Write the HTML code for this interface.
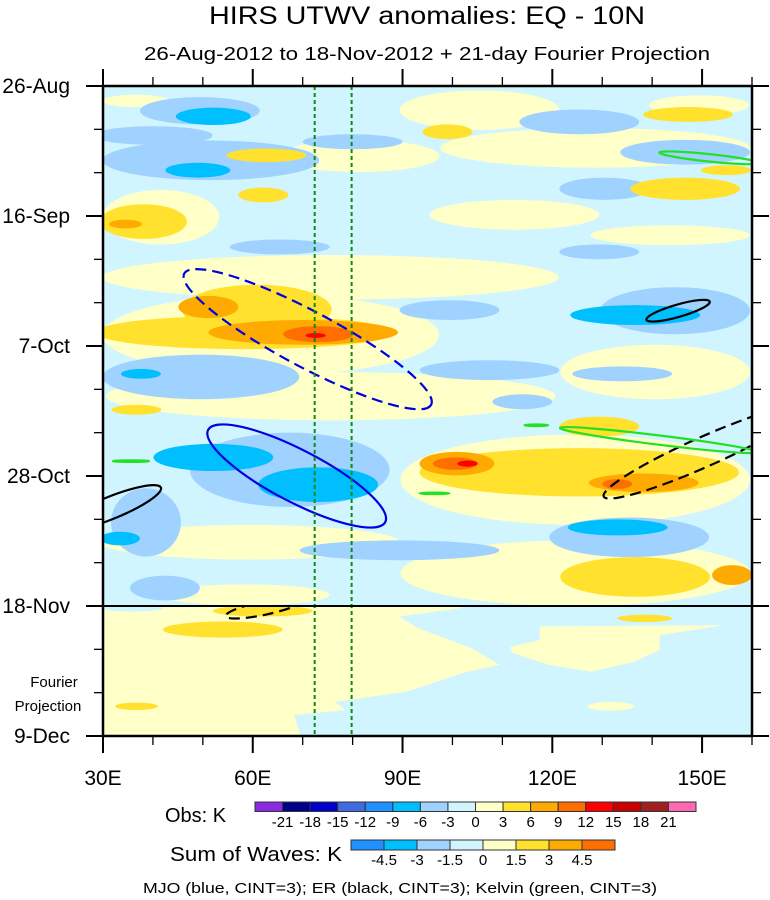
<!DOCTYPE html>
<html><head><meta charset="utf-8"><style>
html,body{margin:0;padding:0;background:#fff;}
svg{display:block;font-family:"Liberation Sans",Arial,sans-serif;}
</style></head><body>
<svg id="chart" width="770" height="900" viewBox="0 0 770 900" xmlns="http://www.w3.org/2000/svg">
<defs>
<clipPath id="clipMain"><rect x="103" y="86" width="649" height="520"/></clipPath>
<clipPath id="clipProj"><rect x="103" y="606" width="649" height="131"/></clipPath>
<clipPath id="clipAll"><rect x="103" y="86" width="649" height="651"/></clipPath>
</defs>
<text x="427" y="24" font-size="25" text-anchor="middle" textLength="436" lengthAdjust="spacingAndGlyphs">HIRS UTWV anomalies: EQ - 10N</text>
<text x="427" y="60" font-size="18" text-anchor="middle" textLength="566" lengthAdjust="spacingAndGlyphs">26-Aug-2012 to 18-Nov-2012 + 21-day Fourier Projection</text>
<g id="field"></g>
<g id="contours"></g>
<g id="axes"></g>
<g id="legend"></g>
</svg>
<script>
// ---- data (lon in degrees E, day = days since 26-Aug-2012, value in K) ----
const lonTicks = [30, 60, 90, 120, 150];
const lonTickLabels = ["30E", "60E", "90E", "120E", "150E"];
const dayTicks = [0, 21, 42, 63, 84, 105];
const dayTickLabels = ["26-Aug", "16-Sep", "7-Oct", "28-Oct", "18-Nov", "9-Dec"];

// observed anomaly blobs
const blobLon = [105.4,149.4,36.6,81.4,128.6,41.6,75.6,63.6,75.6,140.6,124.6,59.4,124.6,112.4,143.6,58.4,
  49.4,51.6,125.4,146.6,130.4,129.4,144.6,65.4,49.6,67.4,38.6,135.4,89.4,107.4,42.4,99.4,114,134,
  52.1,49,136.6,52.1,73.1,133.1,33.4,37.6,
  58.4,60.8,38.1,62.7,62.1,147.2,154.8,146.6,125.4,136.6,99,36.7,129.4,
  51.1,70.1,100.9,138.3,156,34.5,
  73.1,100.6,133,
  72.6,103,
  40,80];
const blobDay = [3.9,3.1,2.4,11.3,10.0,21.2,30.9,40.2,50.1,46.2,63.6,73.7,78.7,20.8,24.1,82.2,
  4.0,12.0,5.8,10.7,16.6,26.8,36.3,26,47,62,70.5,72.9,75,45.9,81.1,36.2,51,46.5,
  4.9,13.6,37,60,64.4,71.3,73.1,46.5,
  39.8,36.1,21.9,11.2,17.6,4.6,13.6,16.6,62.4,79.3,7.4,52.3,55,
  35.7,39.8,61,64.1,79,22.3,
  40.1,61,64.3,
  40.3,61,
  8,9];
const blobRLon = [16,10,6.7,16,31,11.7,45.7,33.7,45,19,35,30,35,17,16,17,
  12,21.7,12,13,9,8,15,10,19.7,20,7,16,20,14,7,10,6,10,
  7.5,6.5,13,12,12,10,4,4,
  30,15,8.7,8,5,9,5,11,32,15,5,5,8,
  6,19,7.5,11,4,3.3,
  7,4.5,3,
  2,2,
  12,10];
const blobRDay = [3.2,1.6,1.0,2.6,3.2,4.4,3.6,6.5,3.9,4.4,7.3,2.8,5.3,2.4,1.6,1.7,
  2.2,3.2,2,2,1.8,1.2,3.8,1.2,3.6,6,5.5,3.2,1.6,1.6,2,1.6,1.2,1.2,
  1.4,1.2,1.6,2.2,2.8,1.3,1.1,0.8,
  2.7,4,2.8,1.1,1.2,1.2,0.8,1.8,3.9,3.2,1.2,0.8,1.6,
  1.8,2,1.9,1.5,1.6,0.7,
  1.3,1,0.8,
  0.4,0.5,
  1.5,1.2];
const blobVal = [1.5,1.5,1.5,1.5,1.5,1.5,1.5,1.5,1.5,1.5,1.5,1.5,1.5,1.5,1.5,1.5,
  -4.5,-4.5,-4.5,-4.5,-4.5,-4.5,-4.5,-4.5,-4.5,-4.5,-4.5,-4.5,-4.5,-4.5,-4.5,-4.5,-4.5,-4.5,
  -7.5,-7.5,-7.5,-7.5,-7.5,-7.5,-7.5,-7.5,
  4.5,4.5,4.5,4.5,4.5,4.5,4.5,4.5,4.5,4.5,4.5,4.5,4.5,
  7.5,7.5,7.5,7.5,7.5,7.5,
  10.5,10.5,10.5,
  13.5,13.5,
  -4.5,-4.5];

// Fourier projection: cool region polygon and small blobs
const projCoolLon = [101.7,160,160,69.6,68.3,78.6,76.4,91,102.1,109.4,103.8,93.2,89.3,102.1];
const projCoolDay = [84,84,105,105,101.6,100.8,99.5,97.8,94.8,93.5,90.8,87.6,85.7,84.3];
const projWarmLon = [117.5,154.3,141.5,141.5,136.4,127.8,119.2,112,111.6,117.5];
const projWarmDay = [87.3,87.1,88.7,91.1,93,94.6,93.5,91.6,90.6,89.5];
const projBlobLon = [131.7,138.5,54,62,36.7,36];
const projBlobDay = [100.2,86,87.8,84.8,100.2,84.4];
const projBlobRLon = [4.7,5.5,12,10,4.3,6];
const projBlobRDay = [0.7,0.6,1.3,0.9,0.6,0.5];
const projBlobVal = [1.5,4.5,4.5,4.5,4.5,-1.5];

// wave contour ellipses
const waveLon = [71,68.8,145.2,31.4,150.4,62.4,151.4,141.4,116.8,35.6,96.4];
const waveDay = [40.9,63,36.3,68.2,59.1,84.3,11.6,57.2,54.8,60.6,65.8];
const waveRLon = [28,20,6.6,11,22,8,10,20,2.4,3.6,3];
const waveRDay = [4.5,4.2,1.0,1.8,2.4,1.1,0.6,0.75,0.12,0.12,0.12];
const waveAngle = [28,27.5,-16,-22,-24,-12,6,7,0,0,0];
const waveType = ["mjo","mjo","er","er","er","er","kelvin","kelvin","kelvin","kelvin","kelvin"];
const waveSign = [1,-1,-1,-1,1,1,-1,-1,-1,-1,-1];
const waveClip = ["all","all","all","all","all","proj","all","all","all","all","all"];

const obsLevels = ["-21","-18","-15","-12","-9","-6","-3","0","3","6","9","12","15","18","21"];
const obsColors = ["#8a2be2","#00008b","#0000cd","#4169e1","#1e90ff","#00bfff","#a0d2ff","#d0f5ff","#ffffc8","#ffe12e","#ffaa00","#ff6e00","#ff0000","#c80000","#a02020","#ff69b4"];
const waveLevels = ["-4.5","-3","-1.5","0","1.5","3","4.5"];
const waveColors = ["#1e90ff","#00bfff","#a0d2ff","#d0f5ff","#ffffc8","#ffe12e","#ffaa00","#ff6e00"];
const obsBounds = [-21,-18,-15,-12,-9,-6,-3,0,3,6,9,12,15,18,21];

// ---- scales ----
const X0 = 103, X1 = 752, Y0 = 86, Y1 = 736;
function xScale(lon){ return X0 + (lon - 30) * (X1 - X0) / 130; }
function yScale(day){ return Y0 + day * (Y1 - Y0) / 105; }
const pxPerLon = (X1 - X0) / 130, pxPerDay = (Y1 - Y0) / 105;
function colorFor(v){ let i = 0; while (i < obsBounds.length && v > obsBounds[i]) i++; return obsColors[i]; }

const NS = "http://www.w3.org/2000/svg";
function mk(tag, attrs, parent){ const e = document.createElementNS(NS, tag); for (const k in attrs) e.setAttribute(k, attrs[k]); parent.appendChild(e); return e; }

const field = document.getElementById('field');
const gMain = mk('g', {'clip-path':'url(#clipMain)'}, field);


const bg = mk('rect', {x:X0, y:yScale(0), width:X1-X0, height:yScale(84)-yScale(0), fill:colorFor(-1.5)}, gMain);


const order = blobVal.map((v,i)=>i).sort((a,b)=>Math.abs(blobVal[a])-Math.abs(blobVal[b]));
order.forEach(i => {
  const e = mk('ellipse', {cx:xScale(blobLon[i]), cy:yScale(blobDay[i]), rx:blobRLon[i]*pxPerLon, ry:blobRDay[i]*pxPerDay, fill:colorFor(blobVal[i])}, gMain);
  
  
});

const gProj = mk('g', {'clip-path':'url(#clipProj)'}, field);


const pbg = mk('rect', {x:X0, y:yScale(84), width:X1-X0, height:yScale(105)-yScale(84), fill:colorFor(1.5)}, gProj);


function poly(lons, days){ return lons.map((l,i)=>xScale(l).toFixed(1)+','+yScale(days[i]).toFixed(1)).join(' '); }
const pc = mk('polygon', {points:poly(projCoolLon, projCoolDay), fill:colorFor(-1.5)}, gProj);


const pw = mk('polygon', {points:poly(projWarmLon, projWarmDay), fill:colorFor(1.5)}, gProj);


projBlobLon.forEach((l,i) => {
  const e = mk('ellipse', {cx:xScale(l), cy:yScale(projBlobDay[i]), rx:projBlobRLon[i]*pxPerLon, ry:projBlobRDay[i]*pxPerDay, fill:colorFor(projBlobVal[i])}, gProj);
  
  
});

// contours
const cont = document.getElementById('contours');
const gc = mk('g', {'clip-path':'url(#clipAll)'}, cont);
const gcp = mk('g', {'clip-path':'url(#clipProj)'}, cont);
const waveColor = {mjo:'#0000e0', er:'#000000', kelvin:'#22e022'};
waveLon.forEach((l,i) => {
  const cx = xScale(l), cy = yScale(waveDay[i]);
  const a = {cx:cx, cy:cy, rx:waveRLon[i]*pxPerLon, ry:waveRDay[i]*pxPerDay, fill:'none', stroke:waveColor[waveType[i]], 'stroke-width':2.2, transform:'rotate('+waveAngle[i]+' '+cx+' '+cy+')'};
  if (waveSign[i] > 0) a['stroke-dasharray'] = '11 6';
  const e = mk('ellipse', a, waveClip[i] === 'proj' ? gcp : gc);
  
  
});
[72.4, 79.8].forEach(l => {
  const e = mk('line', {x1:xScale(l), x2:xScale(l), y1:Y0, y2:Y1, stroke:'#108a10', 'stroke-width':2, 'stroke-dasharray':'4 3'}, cont);
  
  
});

// axes
const ax = document.getElementById('axes');
const fr = mk('rect', {x:X0, y:Y0, width:X1-X0, height:Y1-Y0, fill:'none', stroke:'#000', 'stroke-width':2.5}, ax);


const sep = mk('line', {x1:X0, x2:768, y1:yScale(84), y2:yScale(84), stroke:'#000', 'stroke-width':2}, ax);


for (let l = 30; l <= 160; l += 10) {
  const major = lonTicks.indexOf(l) >= 0, len = major ? 17 : 9, x = xScale(l);
  mk('line', {x1:x, x2:x, y1:Y0, y2:Y0-len, stroke:'#000', 'stroke-width':major?2:1.3}, ax);
  mk('line', {x1:x, x2:x, y1:Y1, y2:Y1+len, stroke:'#000', 'stroke-width':major?2:1.3}, ax);
}
for (let d = 0; d <= 105; d += 7) {
  const major = dayTicks.indexOf(d) >= 0, len = major ? 17 : 9, y = yScale(d);
  mk('line', {x1:X0, x2:X0-len, y1:y, y2:y, stroke:'#000', 'stroke-width':major?2:1.3}, ax);
  mk('line', {x1:X1, x2:X1+len, y1:y, y2:y, stroke:'#000', 'stroke-width':major?2:1.3}, ax);
}
lonTicks.forEach((l,i) => {
  const t = mk('text', {x:xScale(l), y:785, 'font-size':21, 'text-anchor':'middle'}, ax);
  t.textContent = lonTickLabels[i];
  
  
});
dayTicks.forEach((d,i) => {
  const t = mk('text', {x:70, y:yScale(d)+7, 'font-size':21, 'text-anchor':'end'}, ax);
  t.textContent = dayTickLabels[i];
  
  
});
const f1 = mk('text', {x:54, y:687, 'font-size':15, 'text-anchor':'middle'}, ax); f1.textContent = 'Fourier';


const f2 = mk('text', {x:48, y:711, 'font-size':15, 'text-anchor':'middle'}, ax); f2.textContent = 'Projection';



// legend
const lg = document.getElementById('legend');
function bar(x0, x1, y0, h, colors, labels, ly, fs, name){
  const w = (x1 - x0) / colors.length;
  colors.forEach((c,i) => {
    const r = mk('rect', {x:x0+i*w, y:y0, width:w, height:h, fill:c, stroke:'#333', 'stroke-width':1}, lg);
    
    
  });
  labels.forEach((s,i) => {
    const t = mk('text', {x:x0+(i+1)*w, y:ly, 'font-size':fs, 'text-anchor':'middle'}, lg);
    t.textContent = s;
    
    
  });
}
bar(255, 696, 802, 9.5, obsColors, obsLevels, 827, 15, 'obs-colorbar');
bar(351, 615, 840, 10, waveColors, waveLevels, 865, 15, 'waves-colorbar');
const o = mk('text', {x:165, y:822, 'font-size':20}, lg); o.textContent = 'Obs: K';


const s = mk('text', {x:170, y:861, 'font-size':20, textLength:172, lengthAdjust:'spacingAndGlyphs'}, lg); s.textContent = 'Sum of Waves: K';


const n = mk('text', {x:400, y:893, 'font-size':15, 'text-anchor':'middle', textLength:514, lengthAdjust:'spacingAndGlyphs'}, lg); n.textContent = 'MJO (blue, CINT=3); ER (black, CINT=3); Kelvin (green, CINT=3)';


</script>
</body></html>
